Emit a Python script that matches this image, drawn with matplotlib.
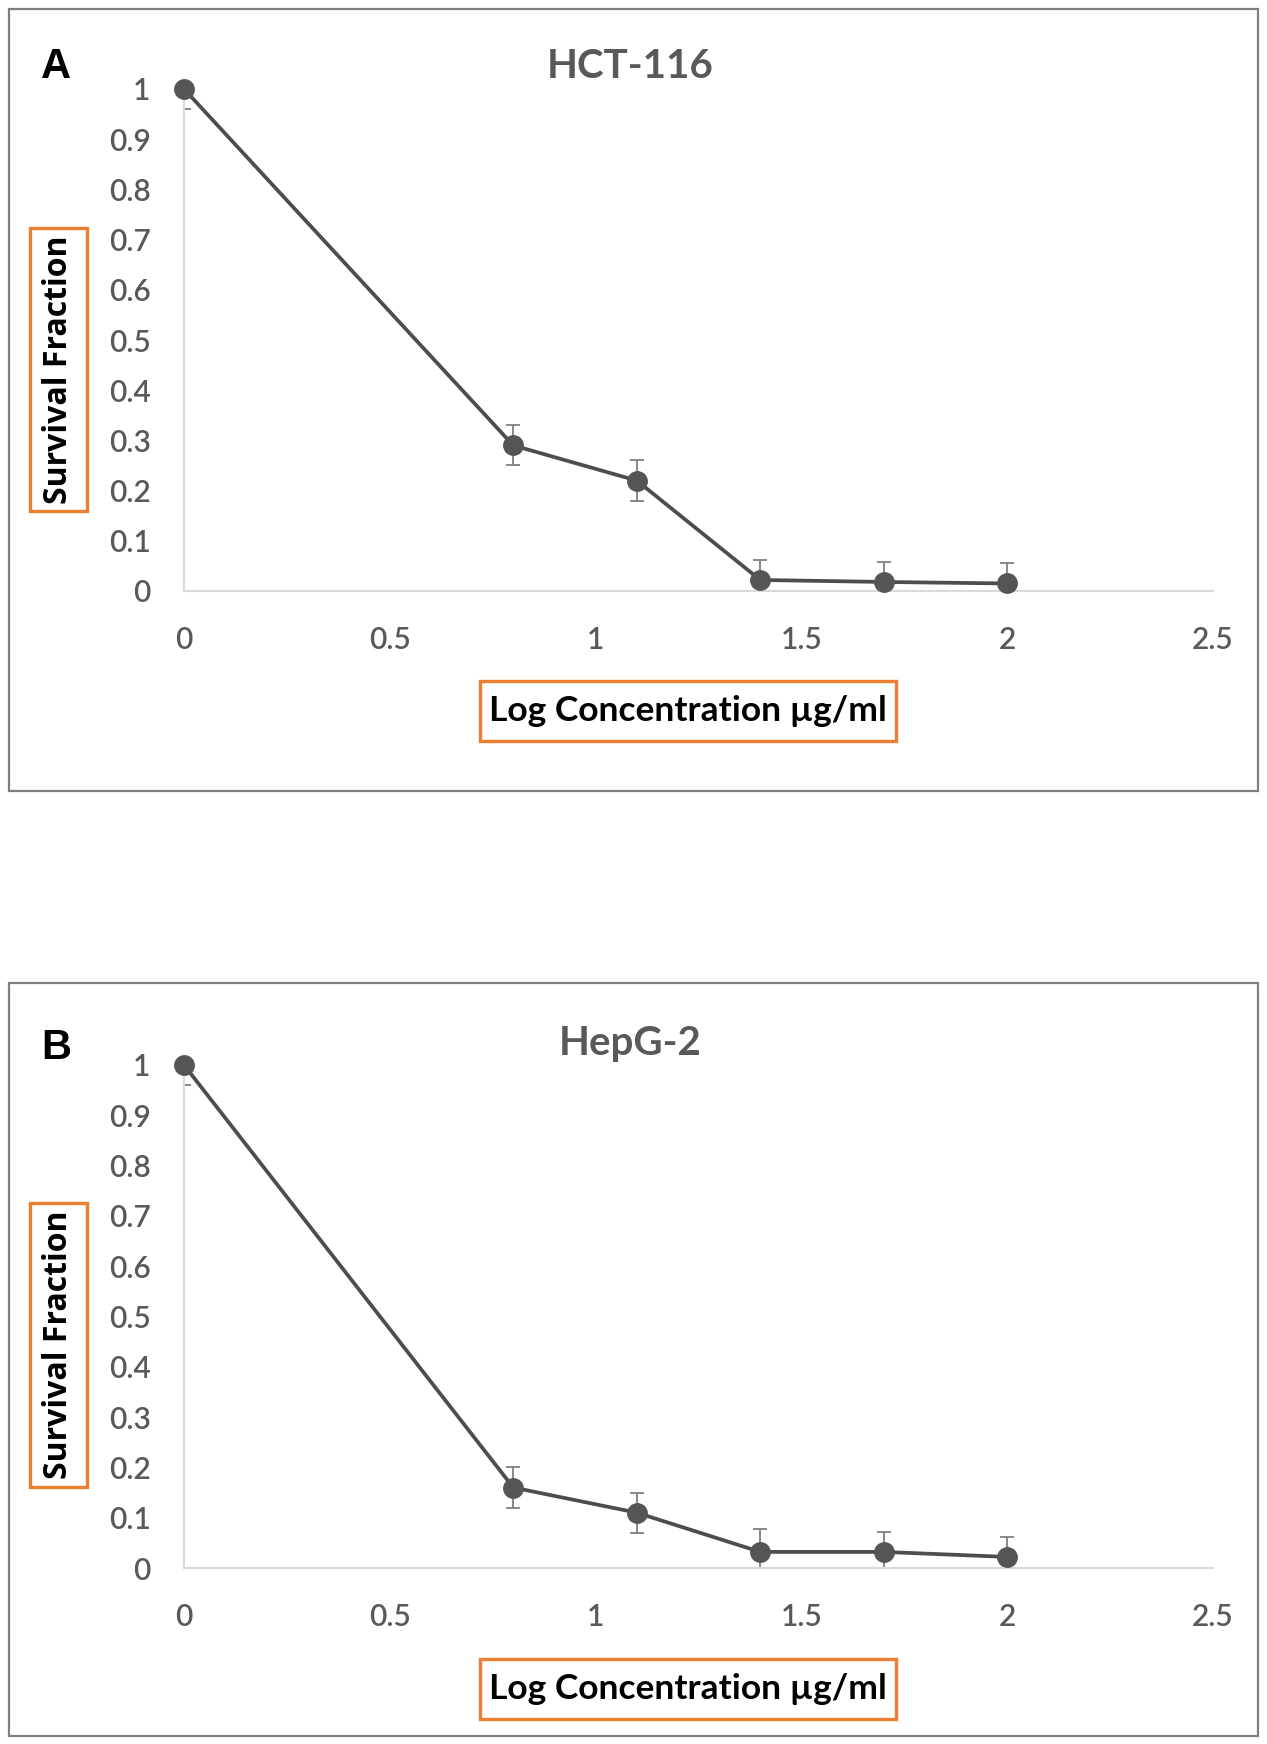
import matplotlib
matplotlib.use("Agg")
import matplotlib.pyplot as plt
from matplotlib.patches import Rectangle

# ---- data ----
log_conc = [0, 0.8, 1.1, 1.4, 1.7, 2.0]
hct116_sf = [1.0, 0.29, 0.22, 0.022, 0.018, 0.015]
hct116_err = [0.04, 0.04, 0.04, 0.04, 0.04, 0.04]
hepg2_sf = [1.0, 0.16, 0.11, 0.032, 0.032, 0.022]
hepg2_err = [0.04, 0.04, 0.04, 0.045, 0.04, 0.04]
x_ticks = [0, 0.5, 1, 1.5, 2, 2.5]
x_tick_labels = ["0", "0.5", "1", "1.5", "2", "2.5"]
y_ticks = [0, 0.1, 0.2, 0.3, 0.4, 0.5, 0.6, 0.7, 0.8, 0.9, 1]
y_tick_labels = ["0", "0.1", "0.2", "0.3", "0.4", "0.5", "0.6", "0.7", "0.8", "0.9", "1"]
titles = ["HCT-116", "HepG-2"]
panel_letters = ["A", "B"]
xlabel = "Log Concentration µg/ml"
ylabel = "Survival Fraction"

W, H = 1267, 1744
fig = plt.figure(figsize=(W / 100, H / 100), dpi=100)
fig.patch.set_facecolor("white")

def fx(x):
    return x / W

def fy(y):
    return 1 - y / H

def rect(x0, y0, x1, y1, **kw):
    fig.patches.append(Rectangle((fx(x0), fy(y1)), fx(x1) - fx(x0), fy(y0) - fy(y1),
                                 transform=fig.transFigure, fill=False, **kw))

GRAY = "#595959"
ORANGE = "#ED7D31"
FONT = ["Lato", "DejaVu Sans"]

panels = [
    dict(frame=(9, 9, 1258, 791), ax=(184, 89, 1213, 591), title_y=67, letter_y=67,
         ybox=(30, 228, 87, 511), xbox=(480, 681, 896, 741),
         sf=hct116_sf, err=hct116_err),
    dict(frame=(9, 983, 1258, 1736), ax=(184, 1065, 1213, 1568), title_y=1044, letter_y=1048,
         ybox=(30, 1203, 87, 1487), xbox=(480, 1659, 896, 1719),
         sf=hepg2_sf, err=hepg2_err),
]

for i, p in enumerate(panels):
    rect(*p["frame"], edgecolor="#7f7f7f", linewidth=1.6)
    x0, y0, x1, y1 = p["ax"]
    ax = fig.add_axes([fx(x0), fy(y1), fx(x1) - fx(x0), fy(y0) - fy(y1)])
    ax.set_xlim(0, 2.5)
    ax.set_ylim(0, 1)
    for s in ["top", "right"]:
        ax.spines[s].set_visible(False)
    for s in ["left", "bottom"]:
        ax.spines[s].set_color("#d9d9d9")
        ax.spines[s].set_linewidth(1.5)
    ax.set_xticks(x_ticks)
    ax.set_xticklabels(x_tick_labels)
    ax.set_yticks(y_ticks)
    ax.set_yticklabels(y_tick_labels)
    ax.tick_params(axis="both", length=0, labelsize=21.5, labelcolor=GRAY)
    ax.tick_params(axis="y", pad=24)
    ax.tick_params(axis="x", pad=25)
    for lab in ax.get_xticklabels() + ax.get_yticklabels():
        lab.set_family(FONT)
        lab.set_fontweight("semibold")
    ax.errorbar(log_conc, p["sf"], yerr=p["err"], fmt="none", ecolor="#7f7f7f",
                elinewidth=1.3, capsize=5, capthick=1.3, zorder=2)
    ax.plot(log_conc, p["sf"], color="#4d4d4d", linewidth=2.7, marker="o",
            markersize=14, markerfacecolor="#555555", markeredgecolor="#555555",
            zorder=3, clip_on=False)

    fig.text(fx(630), fy(p["title_y"]), titles[i], ha="center", va="center",
             fontsize=29, fontweight="bold", color=GRAY, family=FONT)
    fig.text(fx(56), fy(p["letter_y"]), panel_letters[i], ha="center", va="center",
             fontsize=30, fontweight="bold", color="black", family="Liberation Sans")

    bx0, by0, bx1, by1 = p["ybox"]
    rect(bx0, by0, bx1, by1, edgecolor=ORANGE, linewidth=2.4)
    fig.text(fx((bx0 + bx1) / 2), fy((by0 + by1) / 2), ylabel, rotation=90,
             ha="center", va="center", fontsize=23, fontweight="bold",
             color="black", family=["Open Sans", "DejaVu Sans"])
    bx0, by0, bx1, by1 = p["xbox"]
    rect(bx0, by0, bx1, by1, edgecolor=ORANGE, linewidth=2.4)
    fig.text(fx((bx0 + bx1) / 2), fy((by0 + by1) / 2), xlabel,
             ha="center", va="center", fontsize=25.5, fontweight="bold",
             color="black", family=FONT)

fig.savefig("out.png", dpi=100, facecolor="white")
